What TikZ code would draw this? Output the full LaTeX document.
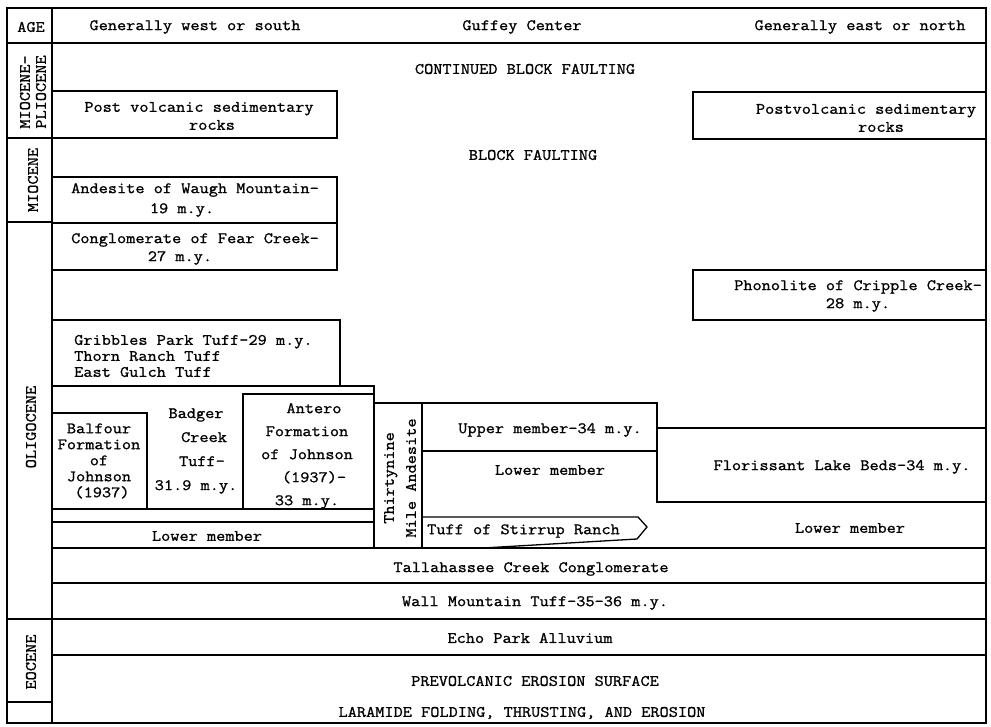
\documentclass[tikz,border=0pt]{standalone}
\usepackage{fontspec}
\newfontfamily\tw[FakeStretch=1.12,FakeBold=1.1]{Latin Modern Mono}
\newcommand{\twsz}[1]{\tw\fontsize{15.9}{#1}\selectfont}
\tikzset{
  lbl/.style={font=\twsz{18}, inner sep=0pt, align=center},
  ln/.style={line width=1.3pt, line join=miter},
}
\begin{document}
\begin{tikzpicture}[x=1pt,y=-1pt]
\useasboundingbox (0,0) rectangle (991,727);
% header
\draw[ln] (7,8) rectangle (52,43);
\draw[ln] (52,8) rectangle (986,43);
% age column
\draw[ln] (7,43) rectangle (52,138);
\draw[ln] (7,138) rectangle (52,222);
\draw[ln] (7,222) rectangle (52,619);
\draw[ln] (7,619) rectangle (52,702);
\draw[ln] (7,702) rectangle (52,723);
% main frame
\draw[ln] (52,43) -- (52,723) -- (986,723) -- (986,43);
% full-width lines
\draw[ln] (52,548) -- (986,548);
\draw[ln] (52,583) -- (986,583);
\draw[ln] (52,619) -- (986,619);
\draw[ln] (52,655) -- (986,655);
% upper boxes
\draw[ln] (52,91) rectangle (337,138);
\draw[ln] (693,92) rectangle (986,139);
\draw[ln] (52,177) rectangle (337,223);
\draw[ln] (52,223) rectangle (337,270);
\draw[ln] (693,270) rectangle (986,320);
\draw[ln] (52,320) rectangle (340,386);
% west group
\draw[ln] (52,386) rectangle (374,522);
\draw[ln] (52,509) -- (374,509);
\draw[ln] (52,413) rectangle (147,509);
\draw[ln] (243,394) rectangle (374,509);
% Thirtynine Mile Andesite
\draw[ln] (374,403) rectangle (422,548);
\draw[ln] (422,403) rectangle (657,451);
\draw[ln] (657,451) -- (657,502);
\draw[ln] (657,428) rectangle (986,502);
% Tuff of Stirrup Ranch
\draw[ln] (422,517) -- (638,517) -- (647,527) -- (637,539) -- (483,548);

% texts
\node[lbl] (age) at (31,27) {AGE};
\node[lbl] (h1) at (195,27) {Generally west or south};
\node[lbl] (h2) at (522,27) {Guffey Center};
\node[lbl] (h3) at (860,27) {Generally east or north};
\node[lbl] (cbf) at (525,69) {CONTINUED BLOCK FAULTING};
\node[lbl] (pvl) at (199,116) {Post volcanic sedimentary\\\hspace*{26pt}rocks};
\node[lbl] (pvr) at (866,118) {Postvolcanic sedimentary\\\hspace*{30pt}rocks};
\node[lbl] (bf) at (533,155) {BLOCK FAULTING};
\node[lbl, font=\twsz{20}] (aw) at (195,200) {Andesite of Waugh Mountain-\\19 m.y.\hspace*{26pt}};
\node[lbl] (cf) at (195,249) {Conglomerate of Fear Creek-\\27 m.y.\hspace*{30pt}};
\node[lbl] (ph) at (858,296) {Phonolite of Cripple Creek-\\28 m.y.};
\node[lbl, align=left, anchor=west, font=\twsz{16}] (gp) at (74,356) {Gribbles Park Tuff-29 m.y.\\Thorn Ranch Tuff\\East Gulch Tuff};
\node[lbl, font=\twsz{16}] (bal) at (99,461) {Balfour\\Formation\\of\\Johnson\\\hspace*{6pt}(1937)};
\node[lbl, font=\twsz{24}] (bc) at (196,451) {Badger\\\hspace*{16pt}Creek\\\hspace*{12pt}Tuff-\\31.9 m.y.};
\node[lbl, font=\twsz{23}] (an) at (307,456) {\hspace*{14pt}Antero\\Formation\\of Johnson\\\hspace*{14pt}(1937)-\\33 m.y.};
\node[lbl] (lml) at (207,536) {Lower member};
\node[lbl, rotate=90, font=\twsz{22}] (tm) at (400,478) {Thirtynine\\Mile Andesite};
\node[lbl] (um) at (550,430) {Upper member-34 m.y.};
\node[lbl] (lmm) at (550,470) {Lower member};
\node[lbl] (fl) at (842,467) {Florissant Lake Beds-34 m.y.};
\node[lbl, anchor=west] (ts) at (427,531) {Tuff of Stirrup Ranch};
\node[lbl] (lmr) at (850,528) {Lower member};
\node[lbl] (tc) at (531,569) {Tallahassee Creek Conglomerate};
\node[lbl] (wm) at (535,603) {Wall Mountain Tuff-35-36 m.y.};
\node[lbl] (ep) at (530,638) {Echo Park Alluvium};
\node[lbl] (pv) at (535,681) {PREVOLCANIC EROSION SURFACE};
\node[lbl] (lf) at (522,713) {LARAMIDE FOLDING, THRUSTING, AND EROSION};
% age labels
\node[lbl, rotate=90, font=\twsz{16}] (mp) at (33,92) {MIOCENE-\\PLIOCENE};
\node[lbl, rotate=90] (mi) at (33,180) {MIOCENE};
\node[lbl, rotate=90] (ol) at (31,427) {OLIGOCENE};
\node[lbl, rotate=90] (eo) at (31,662) {EOCENE};
\end{tikzpicture}
\end{document}
